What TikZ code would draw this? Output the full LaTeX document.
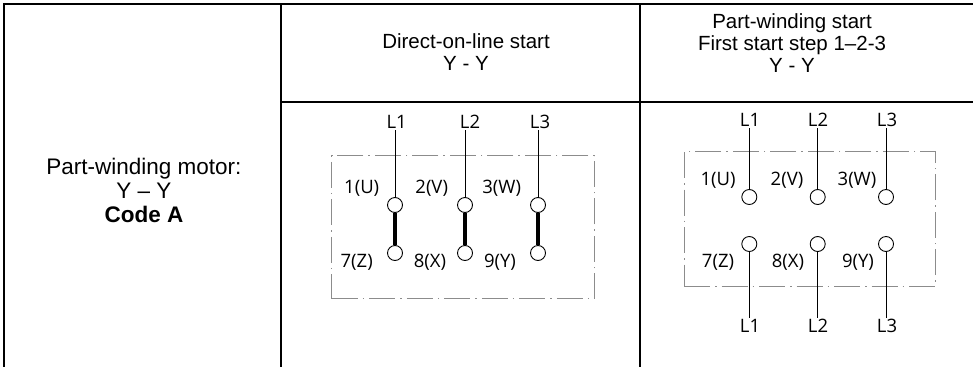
\documentclass[tikz,border=0pt]{standalone}
\usepackage{fontspec}
\setmainfont{Liberation Sans}
\newfontfamily\lblfont{Open Sans}
\begin{document}
\begin{tikzpicture}[x=1pt,y=-1pt,
  grid/.style={line width=2.4pt},
  hdr/.style={align=center,font=\fontsize{20.5}{22}\selectfont,inner sep=0pt},
  side/.style={align=center,font=\fontsize{22.5}{24}\selectfont,inner sep=0pt},
  lbl/.style={font=\lblfont\fontsize{18.5}{20}\selectfont,inner sep=1.5pt},
  term/.style={circle,draw,line width=0.9pt,minimum size=15pt,inner sep=0pt},
  wire/.style={line width=0.9pt},
  bar/.style={line width=3.3pt},
  frame/.style={draw=black!45,line width=0.9pt,dash pattern=on 26pt off 5pt on 1.5pt off 5pt}]
\useasboundingbox (0,0) rectangle (973,367);
% table grid
\coordinate (tl) at (4,4);
\coordinate (tr) at (973,4);
\coordinate (bl) at (4,367);
\coordinate (c1t) at (281,4);
\coordinate (c1b) at (281,367);
\coordinate (c2t) at (640,4);
\coordinate (c2b) at (640,367);
\coordinate (hs) at (281,102);
\coordinate (he) at (973,102);
\draw[grid] (tr) -- (tl) -- (bl);
\draw[grid] (c1t) -- (c1b);
\draw[grid] (c2t) -- (c2b);
\draw[grid] (hs) -- (he);
% header texts
\node[hdr] (h2) at (466,52) {Direct-on-line start\\Y - Y};
\node[hdr] (h3) at (792,43) {Part-winding start\\First start step 1--2-3\\Y - Y};
\node[side] (h1) at (144,190) {Part-winding motor:\\Y -- Y\\\textbf{Code A}};
% ---- left diagram (direct-on-line)
\node[frame,draw,minimum width=263pt,minimum height=143pt,inner sep=0pt] (boxA) at (463.3,227.3) {};
\node[term] (au1) at (395,205) {};
\node[term] (au2) at (465,205) {};
\node[term] (au3) at (538,205) {};
\node[term] (ad1) at (395,253) {};
\node[term] (ad2) at (465,253) {};
\node[term] (ad3) at (538,253) {};
\node[lbl] (aL1) at (396.7,122) {L1};
\node[lbl] (aL2) at (470,122) {L2};
\node[lbl] (aL3) at (540,122) {L3};
\node[lbl] (at1) at (361.7,188) {1(U)};
\node[lbl] (at2) at (431.7,188) {2(V)};
\node[lbl] (at3) at (501.7,188) {3(W)};
\node[lbl] (at7) at (356.7,262) {7(Z)};
\node[lbl] (at8) at (430,262) {8(X)};
\node[lbl] (at9) at (500,262) {9(Y)};
\foreach \i in {1,2,3}{
  \draw[wire] (au\i.north |- aL\i.south) -- (au\i.north);
  \draw[bar] (au\i.south) -- (ad\i.north);
}
% ---- right diagram (part-winding)
\node[frame,draw,minimum width=251pt,minimum height=135pt,inner sep=0pt] (boxB) at (809.5,219.2) {};
\node[term] (bu1) at (749.3,197) {};
\node[term] (bu2) at (817.7,197) {};
\node[term] (bu3) at (886,197) {};
\node[term] (bd1) at (749.3,244) {};
\node[term] (bd2) at (817.7,244) {};
\node[term] (bd3) at (886,244) {};
\node[lbl] (bL1) at (750,120) {L1};
\node[lbl] (bL2) at (818,120) {L2};
\node[lbl] (bL3) at (887,120) {L3};
\node[lbl] (bM1) at (750,326) {L1};
\node[lbl] (bM2) at (818,326) {L2};
\node[lbl] (bM3) at (887,326) {L3};
\node[lbl] (bt1) at (718,180) {1(U)};
\node[lbl] (bt2) at (787,180) {2(V)};
\node[lbl] (bt3) at (857,180) {3(W)};
\node[lbl] (bt7) at (718,262) {7(Z)};
\node[lbl] (bt8) at (788,262) {8(X)};
\node[lbl] (bt9) at (858,262) {9(Y)};
\foreach \i in {1,2,3}{
  \draw[wire] (bu\i.north |- bL\i.south) -- (bu\i.north);
  \draw[wire] (bd\i.south) -- (bd\i.south |- bM\i.north);
}
\end{tikzpicture}
\end{document}
